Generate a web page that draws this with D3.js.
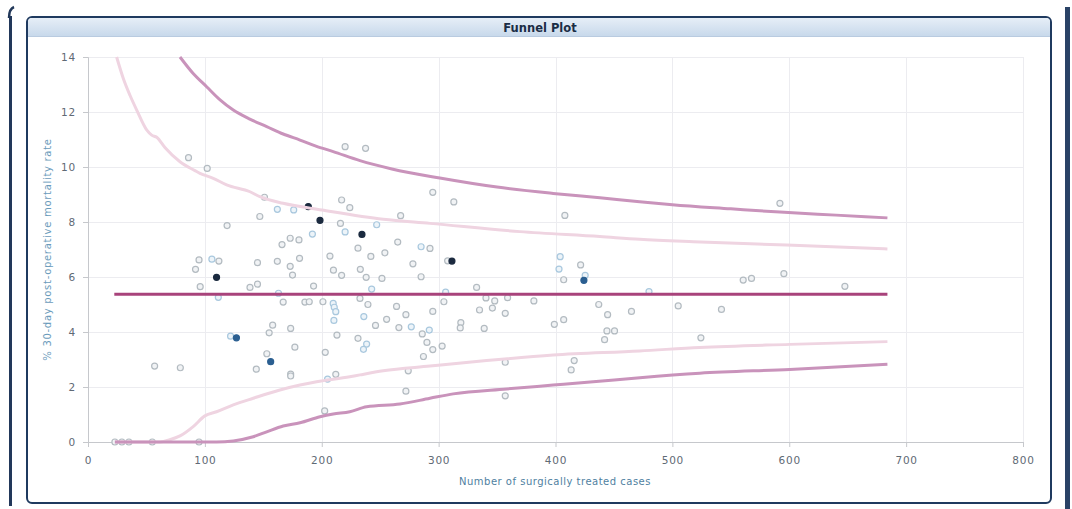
<!DOCTYPE html>
<html>
<head>
<meta charset="utf-8">
<script src="https://cdn.jsdelivr.net/npm/d3@7"></script>
<style>
  html, body { margin: 0; padding: 0; background: #fff; }
  svg { display: block; font-family: "DejaVu Sans", Verdana, sans-serif; }
</style>
</head>
<body>
<svg id="funnel" width="1072" height="509"></svg>
<script>
// hospital points: [cases, % mortality, kind]  g = grey ring, b = blue ring, n = navy dot, d = blue dot
const hospitals = [
  [86, 10.34, 'g'], [102, 9.95, 'g'], [119, 7.87, 'g'], [147, 8.2, 'g'], [95, 6.62, 'g'],
  [92, 6.28, 'g'], [106, 6.65, 'b'], [112, 6.58, 'g'], [110, 5.99, 'n'], [145, 6.52, 'g'],
  [96, 5.65, 'g'], [138.6, 5.62, 'g'], [145, 5.74, 'g'], [111.5, 5.26, 'b'], [122, 3.85, 'b'],
  [127, 3.79, 'd'], [57, 2.76, 'g'], [79, 2.7, 'g'], [144, 2.65, 'g'], [220, 10.74, 'g'],
  [237.5, 10.68, 'g'], [151, 8.9, 'g'], [162, 8.46, 'b'], [176, 8.44, 'b'], [188.5, 8.56, 'n'],
  [198.5, 8.06, 'n'], [217, 8.8, 'g'], [224, 8.52, 'g'], [216, 7.95, 'g'], [220, 7.64, 'b'],
  [234.4, 7.55, 'n'], [247, 7.9, 'b'], [267.5, 8.23, 'g'], [192, 7.56, 'b'], [173, 7.41, 'g'],
  [180.5, 7.35, 'g'], [166, 7.18, 'g'], [265, 7.27, 'g'], [285, 7.1, 'b'], [292.6, 7.04, 'g'],
  [231, 7.05, 'g'], [242, 6.75, 'g'], [254, 6.88, 'g'], [207, 6.76, 'g'], [181, 6.68, 'g'],
  [162, 6.57, 'g'], [173, 6.39, 'g'], [175, 6.07, 'g'], [210, 6.25, 'g'], [233, 6.28, 'g'],
  [278, 6.48, 'g'], [217, 6.06, 'g'], [238, 5.99, 'g'], [251.5, 5.95, 'g'], [285, 6.01, 'g'],
  [193, 5.67, 'g'], [242.7, 5.56, 'b'], [163, 5.41, 'b'], [167, 5.09, 'g'], [185.6, 5.09, 'g'],
  [189.3, 5.1, 'g'], [201, 5.1, 'g'], [209.8, 5.04, 'b'], [210.7, 4.9, 'b'], [212, 4.74, 'b'],
  [232.7, 5.22, 'g'], [239.5, 5.0, 'g'], [264, 4.93, 'g'], [272, 4.63, 'g'], [210.4, 4.42, 'b'],
  [236, 4.56, 'b'], [255.5, 4.46, 'g'], [246, 4.24, 'g'], [266, 4.16, 'g'], [276.6, 4.19, 'b'],
  [286, 3.93, 'g'], [292, 4.07, 'b'], [290, 3.62, 'g'], [287, 3.11, 'g'], [158, 4.25, 'g'],
  [155, 3.97, 'g'], [173.4, 4.13, 'g'], [213, 3.89, 'g'], [231, 3.77, 'g'], [238.4, 3.56, 'b'],
  [235.7, 3.37, 'b'], [177, 3.45, 'g'], [203, 3.26, 'g'], [153, 3.21, 'g'], [156.3, 2.92, 'd'],
  [173.4, 2.47, 'g'], [173.4, 2.4, 'g'], [212, 2.46, 'g'], [205, 2.29, 'b'], [274, 2.59, 'g'],
  [272, 1.85, 'g'], [202.5, 1.13, 'g'], [295, 9.08, 'g'], [313, 8.73, 'g'], [408, 8.24, 'g'],
  [307.7, 6.59, 'g'], [311.4, 6.58, 'n'], [404, 6.74, 'b'], [403, 6.29, 'b'], [407, 5.9, 'g'],
  [421.5, 6.44, 'g'], [425.4, 6.06, 'b'], [424.3, 5.88, 'd'], [332.5, 5.62, 'g'], [306, 5.45, 'b'],
  [304.5, 5.1, 'g'], [340.5, 5.24, 'g'], [348, 5.13, 'g'], [359, 5.25, 'g'], [381.5, 5.13, 'g'],
  [295, 4.75, 'g'], [335, 4.8, 'g'], [346, 4.87, 'g'], [357, 4.68, 'g'], [319, 4.34, 'g'],
  [318.5, 4.15, 'g'], [339, 4.13, 'g'], [295, 3.36, 'g'], [303, 3.49, 'g'], [399, 4.28, 'g'],
  [407, 4.45, 'g'], [437, 5.0, 'g'], [444.6, 4.63, 'g'], [465, 4.75, 'g'], [444, 4.04, 'g'],
  [450.5, 4.04, 'g'], [442, 3.72, 'g'], [357, 2.9, 'g'], [416, 2.96, 'g'], [413.4, 2.62, 'g'],
  [357, 1.68, 'g'], [592, 8.68, 'g'], [560.6, 5.89, 'g'], [567.7, 5.95, 'g'], [595.4, 6.12, 'g'],
  [647.6, 5.66, 'g'], [480, 5.47, 'b'], [505, 4.95, 'g'], [542, 4.82, 'g'], [524.4, 3.79, 'g'],
  [23, 0, 'g'], [29, 0, 'g'], [35, 0, 'g'], [55, 0, 'g'], [95, 0, 'g']
];

// control limits: [cases, %]
const upper998 = [
  [78.7, 14], [90, 13.4], [101.5, 12.92], [113, 12.44], [124.3, 12.07], [138, 11.75], [152.9, 11.47],
  [167, 11.2], [181.4, 10.98], [195, 10.76], [209.8, 10.56], [232.7, 10.23], [260, 9.93],
  [301, 9.6], [350, 9.27], [398, 9.04], [438, 8.88], [472, 8.74], [500, 8.63], [550, 8.48],
  [592, 8.36], [640, 8.25], [684, 8.15]
];
const upper95 = [
  [24.5, 14], [30.2, 13.22], [36, 12.6], [41.7, 12.07], [50.2, 11.35], [54.5, 11.16], [58.8, 11.08],
  [66, 10.7], [78.7, 10.19], [91.5, 9.87], [95.8, 9.77], [107.2, 9.59], [118.6, 9.35],
  [138.6, 9.1], [147.1, 8.92], [167, 8.68], [200, 8.44], [252.6, 8.1], [292.6, 7.95],
  [369.5, 7.65], [438, 7.47], [472, 7.37], [518, 7.28], [597.7, 7.16], [684, 7.02]
];
const lower95 = [
  [23, 0], [61.6, 0], [70, 0.08], [78.7, 0.22], [90, 0.56], [100, 0.95], [110, 1.1],
  [124.3, 1.35], [141.4, 1.59], [164.2, 1.89], [181.4, 2.07], [195.6, 2.19], [224, 2.37],
  [232.7, 2.44], [252.6, 2.59], [292.6, 2.76], [341, 2.96], [398, 3.16], [472, 3.31],
  [523.5, 3.44], [600.5, 3.55], [684, 3.65]
];
const lower998 = [
  [23, 0], [110, 0], [124.3, 0.04], [141.4, 0.19], [152.9, 0.37], [167, 0.58], [181.4, 0.7],
  [198.5, 0.92], [209.8, 1.02], [224, 1.1], [238.4, 1.28], [266.9, 1.38], [292.6, 1.59],
  [312.5, 1.75], [358.2, 1.93], [398, 2.07], [432.2, 2.19], [472.2, 2.34], [523.5, 2.5],
  [600.5, 2.64], [684, 2.83]
];
const meanRate = 5.37;
const meanRange = [22.5, 684];

const xTicks = [0, 100, 200, 300, 400, 500, 600, 700, 800];
const yTicks = [0, 2, 4, 6, 8, 10, 12, 14];

const svg = d3.select('#funnel');

// neighbouring panel edges
svg.append('rect').attr('x', 9).attr('y', 16).attr('width', 3).attr('height', 490).attr('fill', '#22385a');
svg.append('path').attr('d', 'M9,18 Q9,9 14,7').attr('fill', 'none').attr('stroke', '#22385a').attr('stroke-width', 2.5);
svg.append('rect').attr('x', 1065).attr('y', 7).attr('width', 5).attr('height', 502).attr('fill', '#2a4266');

const defs = svg.append('defs');
const grad = defs.append('linearGradient').attr('id', 'bar').attr('x1', 0).attr('y1', 0).attr('x2', 0).attr('y2', 1);
grad.append('stop').attr('offset', '0%').attr('stop-color', '#e6eef7');
grad.append('stop').attr('offset', '100%').attr('stop-color', '#c8d9eb');

// panel
svg.append('rect')
  .attr('x', 27).attr('y', 17).attr('width', 1024).attr('height', 486).attr('rx', 5)
  .attr('fill', '#fff').attr('stroke', '#1f3a5f').attr('stroke-width', 2);
svg.append('path')
  .attr('d', 'M28,36 L28,22 Q28,18 32,18 L1046,18 Q1050,18 1050,22 L1050,36 Z')
  .attr('fill', 'url(#bar)');
svg.append('line').attr('x1', 28).attr('x2', 1050).attr('y1', 36.5).attr('y2', 36.5).attr('stroke', '#b9cbe0');
svg.append('text')
  .attr('x', 540).attr('y', 32).attr('text-anchor', 'middle')
  .attr('font-size', 11.5).attr('font-weight', 'bold').attr('fill', '#1b2d45')
  .text('Funnel Plot');

const x = d3.scaleLinear().domain([0, 800]).range([88, 1023]);
const y = d3.scaleLinear().domain([0, 14]).range([442, 57]);

// grid
const grid = svg.append('g').attr('stroke', '#ececf0').attr('stroke-width', 1);
grid.selectAll('.gx').data(xTicks.slice(1)).join('line')
  .attr('x1', (d) => Math.round(x(d)) + 0.5).attr('x2', (d) => Math.round(x(d)) + 0.5)
  .attr('y1', y(14)).attr('y2', y(0));
grid.selectAll('.gy').data(yTicks.slice(1)).join('line')
  .attr('x1', x(0)).attr('x2', x(800))
  .attr('y1', (d) => Math.round(y(d)) + 0.5).attr('y2', (d) => Math.round(y(d)) + 0.5);

// axes
const axisColor = '#c6c8cc';
const labelColor = '#5f6a75';
const gx = svg.append('g').attr('transform', `translate(0,${y(0)})`)
  .call(d3.axisBottom(x).tickValues(xTicks).tickSize(5).tickPadding(10));
const gy = svg.append('g').attr('transform', `translate(${x(0)},0)`)
  .call(d3.axisLeft(y).tickValues(yTicks).tickSize(5).tickPadding(7));
[gx, gy].forEach((g) => {
  g.selectAll('path, line').attr('stroke', axisColor);
  g.selectAll('text').attr('fill', labelColor).attr('font-size', 10.5)
    .attr('letter-spacing', 0.8)
    .attr('font-family', '"DejaVu Sans", Verdana, sans-serif');
});

svg.append('text')
  .attr('x', 555).attr('y', 485).attr('text-anchor', 'middle')
  .attr('font-size', 10).attr('letter-spacing', 0.5).attr('fill', '#4f7fa1')
  .text('Number of surgically treated cases');
svg.append('text')
  .attr('transform', `translate(51,${(y(0) + y(14)) / 2}) rotate(-90)`)
  .attr('text-anchor', 'middle')
  .attr('font-size', 10).attr('letter-spacing', 0.7).attr('fill', '#6b9bbb')
  .text('% 30-day post-operative mortality rate');

// hospitals
const ringStroke = { g: '#b3bbc1', b: '#a9c8de', n: '#1b2a3f', d: '#2b5f91' };
const ringFill = { g: '#f1f3f5', b: '#edf4f9', n: '#1b2a3f', d: '#2b5f91' };
svg.append('g').selectAll('circle').data(hospitals).join('circle')
  .attr('cx', (d) => x(d[0])).attr('cy', (d) => y(d[1]))
  .attr('r', 3)
  .attr('fill', (d) => ringFill[d[2]])
  .attr('stroke', (d) => ringStroke[d[2]])
  .attr('stroke-width', 1.2);

// limits
const line = d3.line().curve(d3.curveMonotoneX).x((d) => x(d[0])).y((d) => y(d[1]));
const limits = [
  { data: upper95, color: '#efd4e1' },
  { data: lower95, color: '#efd4e1' },
  { data: upper998, color: '#c993bb' },
  { data: lower998, color: '#c993bb' },
];
svg.append('g').selectAll('path').data(limits).join('path')
  .attr('d', (d) => line(d.data))
  .attr('fill', 'none')
  .attr('stroke', (d) => d.color)
  .attr('stroke-width', 3)
  .attr('stroke-linejoin', 'round');

svg.append('line')
  .attr('x1', x(meanRange[0])).attr('x2', x(meanRange[1]))
  .attr('y1', y(meanRate)).attr('y2', y(meanRate))
  .attr('stroke', '#a8437b').attr('stroke-width', 3);
</script>
</body>
</html>
